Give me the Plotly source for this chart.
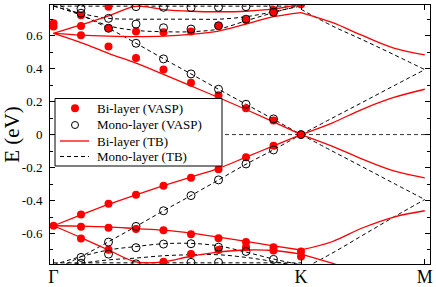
import plotly.graph_objects as go

# ---------------- data ----------------
# k-path coordinate: Gamma = 0, K = 9, M = 13.5 (VASP k-points at integer steps along Gamma-K)
k_gk = [0, 1, 2, 3, 4, 5, 6, 7, 8, 9]
k_km = [9, 10.125, 11.25, 12.375, 13.5]
tick_k = [0, 9, 13.5]
tick_k_labels = ["Γ", "K", "M"]
y_ticks = [-0.6, -0.4, -0.2, 0, 0.2, 0.4, 0.6]
y_tick_labels = ["-0.6", "-0.4", "-0.2", "0", "0.2", "0.4", "0.6"]
y_minor = [-0.7, -0.5, -0.3, -0.1, 0.1, 0.3, 0.5, 0.7]
legend_labels = ["Bi-layer (VASP)", "Mono-layer (VASP)", "Bi-layer (TB)", "Mono-layer (TB)"]

# Bi-layer tight-binding bands (eV), Gamma->K and K->M
bi_tb_gk = [
    [0.614, 0.558, 0.493, 0.433, 0.365, 0.295, 0.225, 0.152, 0.077, 0.0],
    [-0.553, -0.487, -0.423, -0.365, -0.31, -0.258, -0.205, -0.137, -0.068, 0.0],
    [0.614, 0.603, 0.597, 0.594, 0.597, 0.608, 0.628, 0.67, 0.715, 0.74],
    [0.614, 0.665, 0.72, 0.778, 0.758, 0.748, 0.745, 0.748, 0.762, 0.79],
    [-0.553, -0.555, -0.56, -0.57, -0.58, -0.598, -0.622, -0.648, -0.675, -0.70],
    [-0.553, -0.625, -0.70, -0.772, -0.772, -0.738, -0.713, -0.70, -0.703, -0.725],
]
bi_tb_km = [
    [0.0, -0.07, -0.15, -0.22, -0.262],
    [0.0, 0.07, 0.155, 0.225, 0.275],
    [0.74, 0.68, 0.60, 0.525, 0.483],
    [0.79, 0.835, None, None, None],
    [-0.70, -0.65, -0.565, -0.50, -0.462],
    [-0.725, -0.78, -0.84, None, None],
]

# Mono-layer tight-binding bands (eV)
mono_tb_gk = [
    [0.80, 0.725, 0.645, 0.554, 0.46, 0.368, 0.275, 0.184, 0.093, 0.0],
    [-0.82, -0.74, -0.65, -0.557, -0.462, -0.37, -0.275, -0.18, -0.092, 0.0],
    [0.78, 0.735, 0.705, 0.70, 0.70, 0.70, 0.70, 0.715, 0.745, 0.78],
    [0.78, 0.725, 0.66, 0.632, 0.624, 0.624, 0.64, 0.69, 0.74, 0.785],
    [0.779, 0.779, 0.779, 0.779, 0.779, 0.779, 0.779, 0.779, 0.779, 0.779],
    [-0.79, -0.74, -0.70, -0.679, -0.662, -0.66, -0.675, -0.713, -0.755, -0.79],
    [-0.80, -0.78, -0.76, -0.749, -0.735, -0.729, -0.729, -0.745, -0.77, -0.80],
    [-0.778, -0.778, -0.778, -0.778, -0.778, -0.778, -0.778, -0.778, -0.778, -0.778],
]
mono_tb_km = [
    [0.0, 0.099, 0.197, 0.296, 0.394],
    [0.0, -0.099, -0.197, -0.296, -0.394],
    [0.76, 0.66, 0.574, 0.485, 0.394],
    [-0.82, -0.72, -0.61, -0.50, -0.394],
]

# VASP points
bi_vasp_k = [0, 0, 0,
             1, 1, 1, 1, 1, 1,
             2, 2, 2, 2, 2, 2,
             3, 3, 3, 3,
             4, 4, 4, 4, 4,
             5, 5, 5, 5, 5,
             6, 6, 6, 6, 6,
             7, 7, 7, 7, 7,
             8, 8, 8, 8, 8, 8,
             9, 9, 9, 9]
bi_vasp_E = [0.675, 0.655, -0.553,
             0.724, 0.659, 0.602, -0.485, -0.559, -0.63,
             0.776, 0.645, 0.535, -0.42, -0.565, -0.699,
             0.626, 0.465, -0.365, -0.572,
             0.62, 0.395, -0.311, -0.58, -0.771,
             0.625, 0.315, -0.262, -0.604, -0.724,
             0.66, 0.239, -0.21, -0.629, -0.70,
             0.695, 0.16, -0.137, -0.651, -0.684,
             0.756, 0.74, 0.085, -0.068, -0.683, -0.703,
             0.79, 0.0, -0.709, -0.739]

mono_vasp_k = [1, 1, 1, 1,
               2, 2, 2, 2,
               3, 3, 3, 3, 3, 3,
               4, 4, 4, 4, 4,
               5, 5, 5, 5, 5, 5,
               6, 6, 6, 6, 6, 6,
               7, 7, 7, 7, 7,
               8, 8, 8, 8, 8,
               9]
mono_vasp_E = [0.764, 0.736, -0.745, -0.78,
               0.705, 0.645, -0.652, -0.725,
               0.776, 0.67, 0.554, -0.557, -0.686, -0.784,
               0.772, 0.648, 0.459, -0.462, -0.664,
               0.77, 0.64, 0.368, -0.37, -0.662, -0.775,
               0.772, 0.66, 0.275, -0.275, -0.683, -0.775,
               0.776, 0.70, 0.184, -0.178, -0.709,
               0.785, 0.742, 0.095, -0.093, -0.757,
               0.0]

# ---------------- figure ----------------
SERIF = "Liberation Serif, Times New Roman, serif"
RED = "#ff0000"
DASH = "4px,3px"
W, H = 436, 287
ML, MR, MT, MB = 50, 6, 5, 23

fig = go.Figure()

for band in mono_tb_gk:
    fig.add_trace(go.Scatter(x=k_gk, y=band, mode="lines",
                             line=dict(color="black", width=1, dash=DASH, shape="spline")))
for band in mono_tb_km:
    fig.add_trace(go.Scatter(x=k_km, y=band, mode="lines",
                             line=dict(color="black", width=1, dash=DASH, shape="spline")))
for band in bi_tb_gk:
    fig.add_trace(go.Scatter(x=k_gk, y=band, mode="lines",
                             line=dict(color=RED, width=1.3, shape="spline")))
for band in bi_tb_km:
    fig.add_trace(go.Scatter(x=k_km, y=band, mode="lines",
                             line=dict(color=RED, width=1.3, shape="spline")))

fig.add_trace(go.Scatter(x=bi_vasp_k, y=bi_vasp_E, mode="markers",
                         marker=dict(symbol="circle", size=8, color=RED, line=dict(width=0))))
fig.add_trace(go.Scatter(x=mono_vasp_k, y=mono_vasp_E, mode="markers",
                         marker=dict(symbol="circle-open", size=8, color="black", line=dict(width=1))))

fig.add_hline(y=0, line=dict(color="black", width=0.8, dash=DASH), layer="below")

# ----- legend box (drawn by hand so that the rows are as compact as the original) -----
pw, ph = W - ML - MR, H - MT - MB
def px_x(px):
    return (px - ML) / pw
def px_y(py):
    return (H - MB - py) / ph

box_l, box_r, box_t, box_b = 55, 222, 98.5, 166
row_y = [108.3, 125, 141, 156.5]
sym_x, line_x0, line_x1, text_x = 75, 60, 89, 96

fig.add_shape(type="rect", xref="paper", yref="paper",
              x0=px_x(box_l), x1=px_x(box_r), y0=px_y(box_b), y1=px_y(box_t),
              fillcolor="white", line=dict(color="black", width=1), layer="above")
# filled red circle
fig.add_shape(type="circle", xref="paper", yref="paper", xsizemode="pixel", ysizemode="pixel",
              xanchor=px_x(sym_x), yanchor=px_y(row_y[0]), x0=-4, x1=4, y0=-4, y1=4,
              fillcolor=RED, line=dict(width=0), layer="above")
# open black circle
fig.add_shape(type="circle", xref="paper", yref="paper", xsizemode="pixel", ysizemode="pixel",
              xanchor=px_x(sym_x), yanchor=px_y(row_y[1]), x0=-3.5, x1=3.5, y0=-3.5, y1=3.5,
              fillcolor="rgba(0,0,0,0)", line=dict(color="black", width=1), layer="above")
# red solid line
fig.add_shape(type="line", xref="paper", yref="paper",
              x0=px_x(line_x0), x1=px_x(line_x1), y0=px_y(row_y[2]), y1=px_y(row_y[2]),
              line=dict(color=RED, width=1.3), layer="above")
# black dashed line
fig.add_shape(type="line", xref="paper", yref="paper",
              x0=px_x(line_x0), x1=px_x(line_x1), y0=px_y(row_y[3]), y1=px_y(row_y[3]),
              line=dict(color="black", width=1, dash=DASH), layer="above")
for lbl, ry in zip(legend_labels, row_y):
    fig.add_annotation(text=lbl, xref="paper", yref="paper", x=px_x(text_x), y=px_y(ry),
                       xanchor="left", yanchor="middle", showarrow=False, borderpad=0,
                       font=dict(family=SERIF, size=13, color="black"))

fig.update_layout(
    width=W, height=H,
    margin=dict(l=ML, r=MR, t=MT, b=MB, autoexpand=False),
    paper_bgcolor="white", plot_bgcolor="white",
    font=dict(family=SERIF, color="black"),
    showlegend=False,
    xaxis=dict(range=[-0.127, 13.69], tickmode="array", tickvals=tick_k, ticktext=tick_k_labels,
               ticks="inside", ticklen=5, tickcolor="black", mirror="allticks", automargin=False,
               showline=True, linecolor="black", linewidth=1, showgrid=False, zeroline=False,
               ticklabelstandoff=-4,
               tickfont=dict(family=SERIF, size=18, color="black")),
    yaxis=dict(range=[-0.785, 0.786], tickmode="array", tickvals=y_ticks, ticktext=y_tick_labels,
               ticks="inside", ticklen=5, tickcolor="black", mirror="allticks", automargin=False,
               minor=dict(tickmode="array", tickvals=y_minor, ticks="inside", ticklen=3, tickcolor="black"),
               showline=True, linecolor="black", linewidth=1, showgrid=False, zeroline=False,
               ticklabelstandoff=4,
               tickfont=dict(family=SERIF, size=13, color="black"),
               title=dict(text="E (eV)", font=dict(family=SERIF, size=21, color="black"), standoff=2)),
)

fig.write_html("out.html", config={"displayModeBar": False},
               post_script="document.body.style.margin='0px';document.body.style.padding='0px';")
